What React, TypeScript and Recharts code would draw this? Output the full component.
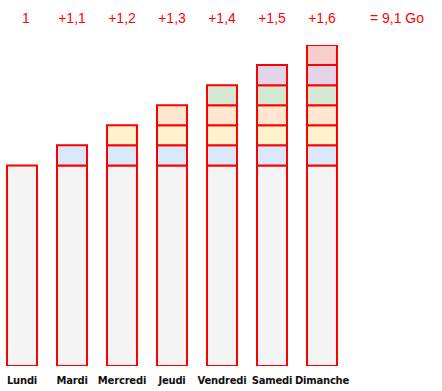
import { BarChart, Bar, XAxis, YAxis } from "recharts";

const days = ["Lundi", "Mardi", "Mercredi", "Jeudi", "Vendredi", "Samedi", "Dimanche", ""];
const topLabels = ["1", "+1,1", "+1,2", "+1,3", "+1,4", "+1,5", "+1,6", "= 9,1 Go"];
const base = [1, 1, 1, 1, 1, 1, 1, 0];
const s1 = [0, 0.1, 0.1, 0.1, 0.1, 0.1, 0.1, 0];
const s2 = [0, 0, 0.1, 0.1, 0.1, 0.1, 0.1, 0];
const s3 = [0, 0, 0, 0.1, 0.1, 0.1, 0.1, 0];
const s4 = [0, 0, 0, 0, 0.1, 0.1, 0.1, 0];
const s5 = [0, 0, 0, 0, 0, 0.1, 0.1, 0];
const s6 = [0, 0, 0, 0, 0, 0, 0.1, 0];

const data = days.map((d, i) => ({
  day: d,
  top: topLabels[i],
  base: base[i],
  s1: s1[i],
  s2: s2[i],
  s3: s3[i],
  s4: s4[i],
  s5: s5[i],
  s6: s6[i],
}));

const segments = [
  { key: "base", fill: "#f4f4f4" },
  { key: "s1", fill: "#dae8fc" },
  { key: "s2", fill: "#fff2cc" },
  { key: "s3", fill: "#ffe6cc" },
  { key: "s4", fill: "#d5e8d4" },
  { key: "s5", fill: "#e1d5e7" },
  { key: "s6", fill: "#f8cecc" },
];

const RED = "#ff0000";

function TopTick(props: any) {
  const { x, payload, index } = props;
  const last = index === topLabels.length - 1;
  return (
    <text
      x={x + (last ? 25 : index === 0 ? 4 : 0)}
      y={23}
      textAnchor="middle"
      fill={RED}
      fontSize={14}
      fontFamily="Liberation Sans, Arial, sans-serif"
    >
      {payload.value}
    </text>
  );
}

function BottomTick(props: any) {
  const { x, payload } = props;
  return (
    <text
      x={x}
      y={384}
      textAnchor="middle"
      fill="#111"
      fontSize={10}
      fontWeight="bold"
      letterSpacing={-0.2}
      fontFamily="DejaVu Sans, sans-serif"
    >
      {payload.value}
    </text>
  );
}

export default function App() {
  return (
    <div style={{ position: "absolute", left: 0, top: 0, background: "#fff" }}>
      <BarChart
        width={442}
        height={391}
        data={data}
        margin={{ top: 15, right: 45, left: -3, bottom: 0 }}
        barSize={30}
      >
        <XAxis
          xAxisId="top"
          orientation="top"
          dataKey="top"
          height={30}
          axisLine={false}
          tickLine={false}
          interval={0}
          tick={<TopTick />}
        />
        <XAxis
          dataKey="day"
          height={25}
          axisLine={false}
          tickLine={false}
          interval={0}
          tick={<BottomTick />}
        />
        <YAxis hide domain={[0, 1.6]} allowDataOverflow />
        {segments.map((s) => (
          <Bar
            key={s.key}
            dataKey={s.key}
            stackId="a"
            fill={s.fill}
            stroke={RED}
            strokeWidth={2}
            isAnimationActive={false}
          />
        ))}
      </BarChart>
    </div>
  );
}
